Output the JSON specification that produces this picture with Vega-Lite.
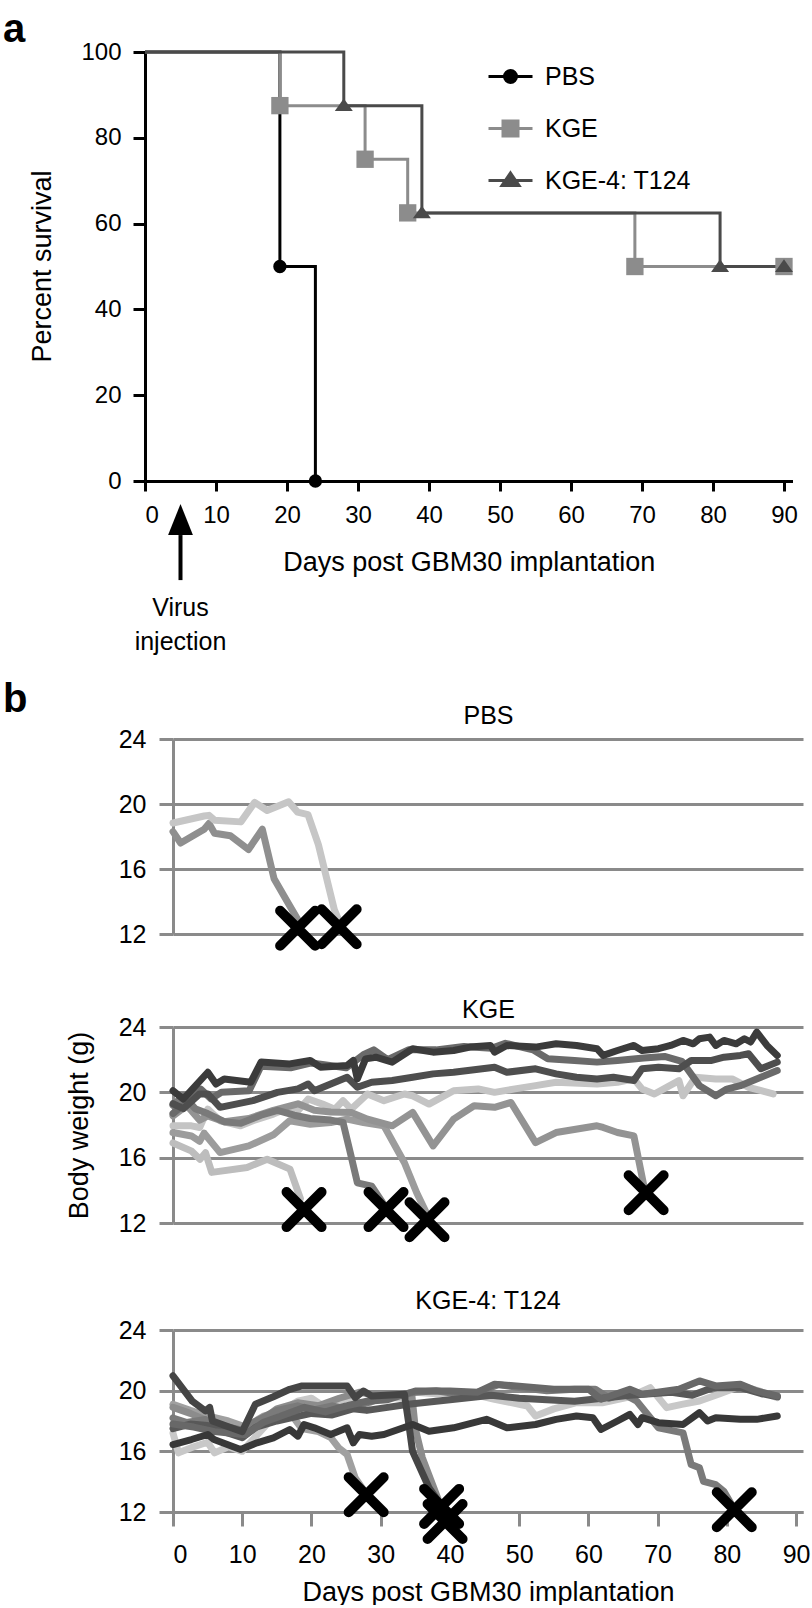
{
"$schema": "https://vega.github.io/schema/vega-lite/v6.json",
"padding": {"left": 2, "top": 10, "right": 2, "bottom": 0},
"config": {
 "font": "Liberation Sans",
 "view": {"stroke": null},
 "axis": {"labelFont": "Liberation Sans", "titleFont": "Liberation Sans", "labelColor": "#000000", "titleColor": "#000000", "titleFontWeight": "normal"},
 "legend": {"labelFont": "Liberation Sans"},
 "text": {"font": "Liberation Sans"}
},
"datasets": {
 "survival": [
  {"group": "PBS", "day": 0, "pct": 100}, {"group": "PBS", "day": 19, "pct": 50}, {"group": "PBS", "day": 24, "pct": 0},
  {"group": "KGE", "day": 0, "pct": 100}, {"group": "KGE", "day": 19, "pct": 87.5}, {"group": "KGE", "day": 31, "pct": 75}, {"group": "KGE", "day": 37, "pct": 62.5}, {"group": "KGE", "day": 69, "pct": 50}, {"group": "KGE", "day": 90, "pct": 50},
  {"group": "KGE-4: T124", "day": 0, "pct": 100}, {"group": "KGE-4: T124", "day": 28, "pct": 87.5}, {"group": "KGE-4: T124", "day": 39, "pct": 62.5}, {"group": "KGE-4: T124", "day": 81, "pct": 50}, {"group": "KGE-4: T124", "day": 90, "pct": 50}
 ],
 "deaths": [
  {"panel": "PBS", "day": 18.0, "wt": 12.35}, {"panel": "PBS", "day": 24.0, "wt": 12.45},
  {"panel": "KGE", "day": 18.93, "wt": 12.82}, {"panel": "KGE", "day": 30.77, "wt": 12.82}, {"panel": "KGE", "day": 36.69, "wt": 12.2}, {"panel": "KGE", "day": 68.34, "wt": 13.85},
  {"panel": "KGE4", "day": 27.9, "wt": 13.14}, {"panel": "KGE4", "day": 38.8, "wt": 12.37}, {"panel": "KGE4", "day": 39.3, "wt": 11.37}, {"panel": "KGE4", "day": 81.07, "wt": 12.15}
 ],
 "weight": [
  {"panel":"PBS","mouse":"P1","day":0,"wt":18.3},{"panel":"PBS","mouse":"P1","day":1.1,"wt":17.6},{"panel":"PBS","mouse":"P1","day":4.5,"wt":18.45},{"panel":"PBS","mouse":"P1","day":5.2,"wt":18.8},{"panel":"PBS","mouse":"P1","day":6.0,"wt":18.2},{"panel":"PBS","mouse":"P1","day":8.3,"wt":18.05},{"panel":"PBS","mouse":"P1","day":10.9,"wt":17.2},{"panel":"PBS","mouse":"P1","day":12.9,"wt":18.45},{"panel":"PBS","mouse":"P1","day":14.6,"wt":15.4},{"panel":"PBS","mouse":"P1","day":16.5,"wt":14.0},{"panel":"PBS","mouse":"P1","day":18.0,"wt":12.9},
  {"panel":"PBS","mouse":"P2","day":0,"wt":18.83},{"panel":"PBS","mouse":"P2","day":4.5,"wt":19.26},{"panel":"PBS","mouse":"P2","day":5.2,"wt":19.3},{"panel":"PBS","mouse":"P2","day":6.0,"wt":19.0},{"panel":"PBS","mouse":"P2","day":9.8,"wt":18.9},{"panel":"PBS","mouse":"P2","day":11.8,"wt":20.1},{"panel":"PBS","mouse":"P2","day":13.6,"wt":19.6},{"panel":"PBS","mouse":"P2","day":16.7,"wt":20.14},{"panel":"PBS","mouse":"P2","day":18.0,"wt":19.5},{"panel":"PBS","mouse":"P2","day":19.5,"wt":19.35},{"panel":"PBS","mouse":"P2","day":21.0,"wt":17.5},{"panel":"PBS","mouse":"P2","day":23.3,"wt":13.5},{"panel":"PBS","mouse":"P2","day":24.0,"wt":12.8},

  {"panel":"KGE","mouse":"K5","day":0,"wt":16.9},{"panel":"KGE","mouse":"K5","day":2.7,"wt":16.4},{"panel":"KGE","mouse":"K5","day":3.9,"wt":15.9},{"panel":"KGE","mouse":"K5","day":4.7,"wt":16.3},{"panel":"KGE","mouse":"K5","day":5.6,"wt":15.1},{"panel":"KGE","mouse":"K5","day":10.7,"wt":15.4},{"panel":"KGE","mouse":"K5","day":13.6,"wt":15.9},{"panel":"KGE","mouse":"K5","day":16.9,"wt":15.3},{"panel":"KGE","mouse":"K5","day":18.4,"wt":13.5},
  {"panel":"KGE","mouse":"K4","day":0,"wt":17.95},{"panel":"KGE","mouse":"K4","day":2.66,"wt":17.95},{"panel":"KGE","mouse":"K4","day":3.85,"wt":17.85},{"panel":"KGE","mouse":"K4","day":5.03,"wt":18.97},{"panel":"KGE","mouse":"K4","day":6.8,"wt":18.26},{"panel":"KGE","mouse":"K4","day":9.76,"wt":17.95},{"panel":"KGE","mouse":"K4","day":11.54,"wt":18.26},{"panel":"KGE","mouse":"K4","day":14.5,"wt":18.67},{"panel":"KGE","mouse":"K4","day":16.86,"wt":19.08},{"panel":"KGE","mouse":"K4","day":18.05,"wt":18.87},{"panel":"KGE","mouse":"K4","day":19.53,"wt":19.59},{"panel":"KGE","mouse":"K4","day":21.6,"wt":19.28},{"panel":"KGE","mouse":"K4","day":23.37,"wt":18.97},{"panel":"KGE","mouse":"K4","day":24.56,"wt":19.49},{"panel":"KGE","mouse":"K4","day":25.74,"wt":18.97},{"panel":"KGE","mouse":"K4","day":28.1,"wt":19.9},{"panel":"KGE","mouse":"K4","day":30.47,"wt":19.49},{"panel":"KGE","mouse":"K4","day":33.43,"wt":19.9},{"panel":"KGE","mouse":"K4","day":34.62,"wt":19.79},{"panel":"KGE","mouse":"K4","day":36.98,"wt":19.28},{"panel":"KGE","mouse":"K4","day":40.53,"wt":20.1},{"panel":"KGE","mouse":"K4","day":44.08,"wt":20.21},{"panel":"KGE","mouse":"K4","day":46.45,"wt":20.0},{"panel":"KGE","mouse":"K4","day":49.41,"wt":20.21},{"panel":"KGE","mouse":"K4","day":52.37,"wt":20.41},{"panel":"KGE","mouse":"K4","day":55.33,"wt":20.62},{"panel":"KGE","mouse":"K4","day":61.24,"wt":20.51},{"panel":"KGE","mouse":"K4","day":64.2,"wt":20.62},{"panel":"KGE","mouse":"K4","day":66.57,"wt":20.82},{"panel":"KGE","mouse":"K4","day":67.75,"wt":20.21},{"panel":"KGE","mouse":"K4","day":69.53,"wt":19.9},{"panel":"KGE","mouse":"K4","day":73.08,"wt":20.72},{"panel":"KGE","mouse":"K4","day":73.67,"wt":19.79},{"panel":"KGE","mouse":"K4","day":75.44,"wt":20.92},{"panel":"KGE","mouse":"K4","day":78.4,"wt":20.82},{"panel":"KGE","mouse":"K4","day":80.77,"wt":20.82},{"panel":"KGE","mouse":"K4","day":83.14,"wt":20.31},{"panel":"KGE","mouse":"K4","day":86.69,"wt":19.9},
  {"panel":"KGE","mouse":"K7","day":0,"wt":17.54},{"panel":"KGE","mouse":"K7","day":2.66,"wt":17.33},{"panel":"KGE","mouse":"K7","day":3.85,"wt":17.0},{"panel":"KGE","mouse":"K7","day":4.5,"wt":17.5},{"panel":"KGE","mouse":"K7","day":6.8,"wt":16.31},{"panel":"KGE","mouse":"K7","day":10.95,"wt":16.72},{"panel":"KGE","mouse":"K7","day":14.5,"wt":17.4},{"panel":"KGE","mouse":"K7","day":16.86,"wt":18.26},{"panel":"KGE","mouse":"K7","day":19.82,"wt":18.05},{"panel":"KGE","mouse":"K7","day":22.78,"wt":18.15},{"panel":"KGE","mouse":"K7","day":25.15,"wt":18.36},{"panel":"KGE","mouse":"K7","day":27.51,"wt":18.15},{"panel":"KGE","mouse":"K7","day":30.47,"wt":17.95},{"panel":"KGE","mouse":"K7","day":33.43,"wt":15.69},{"panel":"KGE","mouse":"K7","day":35.2,"wt":13.85},{"panel":"KGE","mouse":"K7","day":36.5,"wt":12.7},
  {"panel":"KGE","mouse":"K8","day":0,"wt":18.56},{"panel":"KGE","mouse":"K8","day":2.0,"wt":19.2},{"panel":"KGE","mouse":"K8","day":3.85,"wt":18.3},{"panel":"KGE","mouse":"K8","day":5.03,"wt":18.56},{"panel":"KGE","mouse":"K8","day":7.4,"wt":18.2},{"panel":"KGE","mouse":"K8","day":10.95,"wt":18.4},{"panel":"KGE","mouse":"K8","day":14.5,"wt":18.9},{"panel":"KGE","mouse":"K8","day":18.05,"wt":19.3},{"panel":"KGE","mouse":"K8","day":20.41,"wt":18.9},{"panel":"KGE","mouse":"K8","day":22.78,"wt":18.8},{"panel":"KGE","mouse":"K8","day":25.74,"wt":18.77},{"panel":"KGE","mouse":"K8","day":28.1,"wt":18.36},{"panel":"KGE","mouse":"K8","day":31.66,"wt":17.95},{"panel":"KGE","mouse":"K8","day":34.62,"wt":18.77},{"panel":"KGE","mouse":"K8","day":37.57,"wt":16.72},{"panel":"KGE","mouse":"K8","day":40.53,"wt":18.36},{"panel":"KGE","mouse":"K8","day":43.49,"wt":19.18},{"panel":"KGE","mouse":"K8","day":46.45,"wt":19.08},{"panel":"KGE","mouse":"K8","day":48.82,"wt":19.38},{"panel":"KGE","mouse":"K8","day":52.37,"wt":16.92},{"panel":"KGE","mouse":"K8","day":55.33,"wt":17.54},{"panel":"KGE","mouse":"K8","day":61.24,"wt":17.95},{"panel":"KGE","mouse":"K8","day":62.13,"wt":17.85},{"panel":"KGE","mouse":"K8","day":64.2,"wt":17.54},{"panel":"KGE","mouse":"K8","day":66.57,"wt":17.33},{"panel":"KGE","mouse":"K8","day":68.0,"wt":14.3},
  {"panel":"KGE","mouse":"K6","day":0,"wt":19.2},{"panel":"KGE","mouse":"K6","day":1.5,"wt":19.8},{"panel":"KGE","mouse":"K6","day":3.2,"wt":19.0},{"panel":"KGE","mouse":"K6","day":5.0,"wt":18.7},{"panel":"KGE","mouse":"K6","day":7.4,"wt":18.2},{"panel":"KGE","mouse":"K6","day":9.8,"wt":18.1},{"panel":"KGE","mouse":"K6","day":12.7,"wt":18.6},{"panel":"KGE","mouse":"K6","day":15.1,"wt":18.9},{"panel":"KGE","mouse":"K6","day":17.5,"wt":18.6},{"panel":"KGE","mouse":"K6","day":19.8,"wt":18.4},{"panel":"KGE","mouse":"K6","day":22.8,"wt":18.3},{"panel":"KGE","mouse":"K6","day":24.56,"wt":18.15},{"panel":"KGE","mouse":"K6","day":25.5,"wt":16.5},{"panel":"KGE","mouse":"K6","day":26.63,"wt":14.46},{"panel":"KGE","mouse":"K6","day":28.7,"wt":14.26},{"panel":"KGE","mouse":"K6","day":30.5,"wt":13.1},
  {"panel":"KGE","mouse":"K3","day":0,"wt":18.7},{"panel":"KGE","mouse":"K3","day":2,"wt":19.4},{"panel":"KGE","mouse":"K3","day":4,"wt":20.2},{"panel":"KGE","mouse":"K3","day":5.5,"wt":19.6},{"panel":"KGE","mouse":"K3","day":7,"wt":20.0},{"panel":"KGE","mouse":"K3","day":11,"wt":20.1},{"panel":"KGE","mouse":"K3","day":12.7,"wt":21.6},{"panel":"KGE","mouse":"K3","day":17,"wt":21.5},{"panel":"KGE","mouse":"K3","day":20,"wt":21.8},{"panel":"KGE","mouse":"K3","day":25,"wt":21.5},{"panel":"KGE","mouse":"K3","day":27.5,"wt":22.3},{"panel":"KGE","mouse":"K3","day":29,"wt":22.6},{"panel":"KGE","mouse":"K3","day":31,"wt":22.0},{"panel":"KGE","mouse":"K3","day":34,"wt":22.6},{"panel":"KGE","mouse":"K3","day":38,"wt":22.6},{"panel":"KGE","mouse":"K3","day":42,"wt":22.8},{"panel":"KGE","mouse":"K3","day":46,"wt":22.7},{"panel":"KGE","mouse":"K3","day":48,"wt":23.0},{"panel":"KGE","mouse":"K3","day":52,"wt":22.6},{"panel":"KGE","mouse":"K3","day":54.14,"wt":22.05},{"panel":"KGE","mouse":"K3","day":58,"wt":21.95},{"panel":"KGE","mouse":"K3","day":61.24,"wt":21.85},{"panel":"KGE","mouse":"K3","day":64.2,"wt":21.95},{"panel":"KGE","mouse":"K3","day":68,"wt":22.1},{"panel":"KGE","mouse":"K3","day":71,"wt":22.2},{"panel":"KGE","mouse":"K3","day":73.5,"wt":21.9},{"panel":"KGE","mouse":"K3","day":76.04,"wt":20.41},{"panel":"KGE","mouse":"K3","day":78.4,"wt":19.79},{"panel":"KGE","mouse":"K3","day":80,"wt":20.2},{"panel":"KGE","mouse":"K3","day":81.95,"wt":20.41},{"panel":"KGE","mouse":"K3","day":84.91,"wt":20.92},{"panel":"KGE","mouse":"K3","day":87.28,"wt":21.33},
  {"panel":"KGE","mouse":"K2","day":0,"wt":19.3},{"panel":"KGE","mouse":"K2","day":1.5,"wt":19.0},{"panel":"KGE","mouse":"K2","day":3.85,"wt":19.9},{"panel":"KGE","mouse":"K2","day":5.03,"wt":19.9},{"panel":"KGE","mouse":"K2","day":6.8,"wt":19.08},{"panel":"KGE","mouse":"K2","day":11.54,"wt":19.49},{"panel":"KGE","mouse":"K2","day":15.09,"wt":20.0},{"panel":"KGE","mouse":"K2","day":18.05,"wt":20.21},{"panel":"KGE","mouse":"K2","day":19.53,"wt":20.51},{"panel":"KGE","mouse":"K2","day":20.41,"wt":20.1},{"panel":"KGE","mouse":"K2","day":22.78,"wt":20.51},{"panel":"KGE","mouse":"K2","day":25.15,"wt":20.92},{"panel":"KGE","mouse":"K2","day":26.63,"wt":20.31},{"panel":"KGE","mouse":"K2","day":28.7,"wt":20.62},{"panel":"KGE","mouse":"K2","day":31.66,"wt":20.72},{"panel":"KGE","mouse":"K2","day":34.62,"wt":20.92},{"panel":"KGE","mouse":"K2","day":37.57,"wt":21.13},{"panel":"KGE","mouse":"K2","day":40.53,"wt":21.23},{"panel":"KGE","mouse":"K2","day":46.45,"wt":21.54},{"panel":"KGE","mouse":"K2","day":48.22,"wt":21.23},{"panel":"KGE","mouse":"K2","day":52.37,"wt":21.44},{"panel":"KGE","mouse":"K2","day":55.33,"wt":21.13},{"panel":"KGE","mouse":"K2","day":58.28,"wt":20.92},{"panel":"KGE","mouse":"K2","day":61.24,"wt":20.82},{"panel":"KGE","mouse":"K2","day":63.61,"wt":20.92},{"panel":"KGE","mouse":"K2","day":66.57,"wt":20.72},{"panel":"KGE","mouse":"K2","day":67.75,"wt":21.44},{"panel":"KGE","mouse":"K2","day":70.12,"wt":21.54},{"panel":"KGE","mouse":"K2","day":73.08,"wt":21.44},{"panel":"KGE","mouse":"K2","day":74.85,"wt":21.95},{"panel":"KGE","mouse":"K2","day":77.81,"wt":21.95},{"panel":"KGE","mouse":"K2","day":79.59,"wt":22.15},{"panel":"KGE","mouse":"K2","day":81.95,"wt":22.26},{"panel":"KGE","mouse":"K2","day":83.14,"wt":22.36},{"panel":"KGE","mouse":"K2","day":84.91,"wt":21.44},{"panel":"KGE","mouse":"K2","day":87.28,"wt":21.85},
  {"panel":"KGE","mouse":"K1","day":0,"wt":20.1},{"panel":"KGE","mouse":"K1","day":1.48,"wt":19.59},{"panel":"KGE","mouse":"K1","day":5.03,"wt":21.23},{"panel":"KGE","mouse":"K1","day":6.21,"wt":20.51},{"panel":"KGE","mouse":"K1","day":7.4,"wt":20.82},{"panel":"KGE","mouse":"K1","day":11.24,"wt":20.62},{"panel":"KGE","mouse":"K1","day":12.72,"wt":21.85},{"panel":"KGE","mouse":"K1","day":16.86,"wt":21.74},{"panel":"KGE","mouse":"K1","day":19.82,"wt":21.95},{"panel":"KGE","mouse":"K1","day":21.3,"wt":21.54},{"panel":"KGE","mouse":"K1","day":25.15,"wt":21.64},{"panel":"KGE","mouse":"K1","day":26.04,"wt":21.95},{"panel":"KGE","mouse":"K1","day":26.63,"wt":20.82},{"panel":"KGE","mouse":"K1","day":27.81,"wt":22.05},{"panel":"KGE","mouse":"K1","day":29.29,"wt":22.15},{"panel":"KGE","mouse":"K1","day":31.66,"wt":21.85},{"panel":"KGE","mouse":"K1","day":34.62,"wt":22.67},{"panel":"KGE","mouse":"K1","day":37.57,"wt":22.46},{"panel":"KGE","mouse":"K1","day":40.53,"wt":22.56},{"panel":"KGE","mouse":"K1","day":42.9,"wt":22.77},{"panel":"KGE","mouse":"K1","day":45.86,"wt":22.87},{"panel":"KGE","mouse":"K1","day":46.45,"wt":22.46},{"panel":"KGE","mouse":"K1","day":48.22,"wt":22.87},{"panel":"KGE","mouse":"K1","day":52.37,"wt":22.77},{"panel":"KGE","mouse":"K1","day":55.33,"wt":22.97},{"panel":"KGE","mouse":"K1","day":58.28,"wt":22.87},{"panel":"KGE","mouse":"K1","day":61.24,"wt":22.67},{"panel":"KGE","mouse":"K1","day":62.13,"wt":22.26},{"panel":"KGE","mouse":"K1","day":64.2,"wt":22.56},{"panel":"KGE","mouse":"K1","day":66.57,"wt":22.87},{"panel":"KGE","mouse":"K1","day":67.75,"wt":22.56},{"panel":"KGE","mouse":"K1","day":70.12,"wt":22.67},{"panel":"KGE","mouse":"K1","day":71.89,"wt":22.87},{"panel":"KGE","mouse":"K1","day":73.67,"wt":23.18},{"panel":"KGE","mouse":"K1","day":75.15,"wt":22.97},{"panel":"KGE","mouse":"K1","day":76.04,"wt":23.28},{"panel":"KGE","mouse":"K1","day":77.51,"wt":23.38},{"panel":"KGE","mouse":"K1","day":78.4,"wt":22.87},{"panel":"KGE","mouse":"K1","day":79.59,"wt":23.18},{"panel":"KGE","mouse":"K1","day":81.36,"wt":22.97},{"panel":"KGE","mouse":"K1","day":82.54,"wt":23.28},{"panel":"KGE","mouse":"K1","day":83.43,"wt":23.08},{"panel":"KGE","mouse":"K1","day":84.32,"wt":23.69},{"panel":"KGE","mouse":"K1","day":85.8,"wt":22.87},{"panel":"KGE","mouse":"K1","day":87.28,"wt":22.26},

  {"panel":"KGE4","mouse":"T5","day":0,"wt":17.2},{"panel":"KGE4","mouse":"T5","day":0.8,"wt":15.9},{"panel":"KGE4","mouse":"T5","day":3,"wt":16.3},{"panel":"KGE4","mouse":"T5","day":5,"wt":16.6},{"panel":"KGE4","mouse":"T5","day":6,"wt":15.9},{"panel":"KGE4","mouse":"T5","day":8,"wt":16.3},{"panel":"KGE4","mouse":"T5","day":10,"wt":16.0},{"panel":"KGE4","mouse":"T5","day":12,"wt":17.0},{"panel":"KGE4","mouse":"T5","day":15,"wt":18.5},{"panel":"KGE4","mouse":"T5","day":18,"wt":19.3},{"panel":"KGE4","mouse":"T5","day":20,"wt":19.5},{"panel":"KGE4","mouse":"T5","day":22,"wt":18.9},{"panel":"KGE4","mouse":"T5","day":25,"wt":19.5},{"panel":"KGE4","mouse":"T5","day":28,"wt":19.1},{"panel":"KGE4","mouse":"T5","day":30,"wt":19.6},{"panel":"KGE4","mouse":"T5","day":33,"wt":19.5},{"panel":"KGE4","mouse":"T5","day":35,"wt":19.9},{"panel":"KGE4","mouse":"T5","day":38,"wt":19.8},{"panel":"KGE4","mouse":"T5","day":42,"wt":19.9},{"panel":"KGE4","mouse":"T5","day":46.45,"wt":19.43},{"panel":"KGE4","mouse":"T5","day":49,"wt":19.2},{"panel":"KGE4","mouse":"T5","day":51.2,"wt":18.99},{"panel":"KGE4","mouse":"T5","day":52.37,"wt":18.33},{"panel":"KGE4","mouse":"T5","day":55,"wt":18.8},{"panel":"KGE4","mouse":"T5","day":58.28,"wt":19.21},{"panel":"KGE4","mouse":"T5","day":62,"wt":19.2},{"panel":"KGE4","mouse":"T5","day":66,"wt":19.6},{"panel":"KGE4","mouse":"T5","day":68.93,"wt":20.2},{"panel":"KGE4","mouse":"T5","day":71.3,"wt":18.88},{"panel":"KGE4","mouse":"T5","day":73.5,"wt":19.1},{"panel":"KGE4","mouse":"T5","day":76.04,"wt":19.32},{"panel":"KGE4","mouse":"T5","day":79,"wt":19.8},{"panel":"KGE4","mouse":"T5","day":81.95,"wt":20.31},{"panel":"KGE4","mouse":"T5","day":84.5,"wt":20.0},{"panel":"KGE4","mouse":"T5","day":87.3,"wt":19.54},
  {"panel":"KGE4","mouse":"T6","day":0,"wt":19.1},{"panel":"KGE4","mouse":"T6","day":2.5,"wt":18.7},{"panel":"KGE4","mouse":"T6","day":5,"wt":18.33},{"panel":"KGE4","mouse":"T6","day":8,"wt":18.0},{"panel":"KGE4","mouse":"T6","day":10.5,"wt":17.6},{"panel":"KGE4","mouse":"T6","day":13,"wt":18.3},{"panel":"KGE4","mouse":"T6","day":16.5,"wt":18.8},{"panel":"KGE4","mouse":"T6","day":18.6,"wt":17.5},{"panel":"KGE4","mouse":"T6","day":21,"wt":17.3},{"panel":"KGE4","mouse":"T6","day":22.8,"wt":16.9},{"panel":"KGE4","mouse":"T6","day":24.0,"wt":16.2},{"panel":"KGE4","mouse":"T6","day":25.15,"wt":15.79},{"panel":"KGE4","mouse":"T6","day":26.33,"wt":14.24},{"panel":"KGE4","mouse":"T6","day":27.6,"wt":13.4},
  {"panel":"KGE4","mouse":"T8","day":0,"wt":18.9},{"panel":"KGE4","mouse":"T8","day":2.5,"wt":18.5},{"panel":"KGE4","mouse":"T8","day":5,"wt":18.0},{"panel":"KGE4","mouse":"T8","day":8,"wt":17.5},{"panel":"KGE4","mouse":"T8","day":10,"wt":17.0},{"panel":"KGE4","mouse":"T8","day":12,"wt":17.8},{"panel":"KGE4","mouse":"T8","day":15,"wt":18.8},{"panel":"KGE4","mouse":"T8","day":18,"wt":19.2},{"panel":"KGE4","mouse":"T8","day":21,"wt":19.0},{"panel":"KGE4","mouse":"T8","day":24,"wt":19.5},{"panel":"KGE4","mouse":"T8","day":27,"wt":19.9},{"panel":"KGE4","mouse":"T8","day":30,"wt":19.6},{"panel":"KGE4","mouse":"T8","day":33,"wt":19.8},{"panel":"KGE4","mouse":"T8","day":34.5,"wt":19.7},{"panel":"KGE4","mouse":"T8","day":35,"wt":17.5},{"panel":"KGE4","mouse":"T8","day":36,"wt":15.6},{"panel":"KGE4","mouse":"T8","day":37.5,"wt":13.8},{"panel":"KGE4","mouse":"T8","day":39.0,"wt":12.0},
  {"panel":"KGE4","mouse":"T7","day":0,"wt":18.2},{"panel":"KGE4","mouse":"T7","day":2,"wt":17.9},{"panel":"KGE4","mouse":"T7","day":4.7,"wt":18.1},{"panel":"KGE4","mouse":"T7","day":7,"wt":17.7},{"panel":"KGE4","mouse":"T7","day":10,"wt":17.4},{"panel":"KGE4","mouse":"T7","day":12,"wt":18.0},{"panel":"KGE4","mouse":"T7","day":15,"wt":18.7},{"panel":"KGE4","mouse":"T7","day":18,"wt":19.0},{"panel":"KGE4","mouse":"T7","day":20,"wt":18.7},{"panel":"KGE4","mouse":"T7","day":23,"wt":19.0},{"panel":"KGE4","mouse":"T7","day":25,"wt":18.8},{"panel":"KGE4","mouse":"T7","day":28,"wt":19.2},{"panel":"KGE4","mouse":"T7","day":31,"wt":19.6},{"panel":"KGE4","mouse":"T7","day":35,"wt":19.9},{"panel":"KGE4","mouse":"T7","day":38,"wt":20.0},{"panel":"KGE4","mouse":"T7","day":41,"wt":19.8},{"panel":"KGE4","mouse":"T7","day":44,"wt":19.9},{"panel":"KGE4","mouse":"T7","day":47,"wt":20.4},{"panel":"KGE4","mouse":"T7","day":50,"wt":20.2},{"panel":"KGE4","mouse":"T7","day":54,"wt":20.0},{"panel":"KGE4","mouse":"T7","day":58,"wt":20.1},{"panel":"KGE4","mouse":"T7","day":61,"wt":20.1},{"panel":"KGE4","mouse":"T7","day":63,"wt":19.5},{"panel":"KGE4","mouse":"T7","day":65,"wt":19.8},{"panel":"KGE4","mouse":"T7","day":67,"wt":19.3},{"panel":"KGE4","mouse":"T7","day":70.12,"wt":17.55},{"panel":"KGE4","mouse":"T7","day":73.67,"wt":17.22},{"panel":"KGE4","mouse":"T7","day":74.85,"wt":15.13},{"panel":"KGE4","mouse":"T7","day":76.04,"wt":14.91},{"panel":"KGE4","mouse":"T7","day":76.63,"wt":14.02},{"panel":"KGE4","mouse":"T7","day":78.4,"wt":13.8},{"panel":"KGE4","mouse":"T7","day":79.59,"wt":13.36},{"panel":"KGE4","mouse":"T7","day":80.8,"wt":12.4},
  {"panel":"KGE4","mouse":"T4","day":0,"wt":17.5},{"panel":"KGE4","mouse":"T4","day":2.5,"wt":17.8},{"panel":"KGE4","mouse":"T4","day":5,"wt":17.7},{"panel":"KGE4","mouse":"T4","day":8,"wt":17.2},{"panel":"KGE4","mouse":"T4","day":10,"wt":16.9},{"panel":"KGE4","mouse":"T4","day":12,"wt":17.6},{"panel":"KGE4","mouse":"T4","day":15,"wt":18.0},{"panel":"KGE4","mouse":"T4","day":18,"wt":18.3},{"panel":"KGE4","mouse":"T4","day":20,"wt":18.5},{"panel":"KGE4","mouse":"T4","day":23,"wt":18.4},{"panel":"KGE4","mouse":"T4","day":26,"wt":18.8},{"panel":"KGE4","mouse":"T4","day":28,"wt":18.7},{"panel":"KGE4","mouse":"T4","day":31,"wt":18.9},{"panel":"KGE4","mouse":"T4","day":34,"wt":19.1},{"panel":"KGE4","mouse":"T4","day":38,"wt":19.3},{"panel":"KGE4","mouse":"T4","day":42,"wt":19.5},{"panel":"KGE4","mouse":"T4","day":46,"wt":19.7},{"panel":"KGE4","mouse":"T4","day":50,"wt":19.5},{"panel":"KGE4","mouse":"T4","day":54,"wt":19.4},{"panel":"KGE4","mouse":"T4","day":58,"wt":19.3},{"panel":"KGE4","mouse":"T4","day":62,"wt":19.5},{"panel":"KGE4","mouse":"T4","day":66,"wt":19.7},{"panel":"KGE4","mouse":"T4","day":69,"wt":19.8},{"panel":"KGE4","mouse":"T4","day":72,"wt":19.9},{"panel":"KGE4","mouse":"T4","day":75,"wt":19.7},{"panel":"KGE4","mouse":"T4","day":78,"wt":20.2},{"panel":"KGE4","mouse":"T4","day":82,"wt":20.2},{"panel":"KGE4","mouse":"T4","day":85,"wt":19.8},{"panel":"KGE4","mouse":"T4","day":87.3,"wt":19.6},
  {"panel":"KGE4","mouse":"T3","day":0,"wt":17.8},{"panel":"KGE4","mouse":"T3","day":3,"wt":17.6},{"panel":"KGE4","mouse":"T3","day":6,"wt":17.3},{"panel":"KGE4","mouse":"T3","day":10.5,"wt":17.1},{"panel":"KGE4","mouse":"T3","day":13,"wt":17.9},{"panel":"KGE4","mouse":"T3","day":16,"wt":18.4},{"panel":"KGE4","mouse":"T3","day":19,"wt":18.9},{"panel":"KGE4","mouse":"T3","day":22,"wt":18.6},{"panel":"KGE4","mouse":"T3","day":25,"wt":19.0},{"panel":"KGE4","mouse":"T3","day":28,"wt":19.3},{"panel":"KGE4","mouse":"T3","day":31,"wt":19.4},{"panel":"KGE4","mouse":"T3","day":35,"wt":19.98},{"panel":"KGE4","mouse":"T3","day":40,"wt":19.98},{"panel":"KGE4","mouse":"T3","day":44,"wt":19.9},{"panel":"KGE4","mouse":"T3","day":46.45,"wt":20.42},{"panel":"KGE4","mouse":"T3","day":50,"wt":20.3},{"panel":"KGE4","mouse":"T3","day":55,"wt":20.1},{"panel":"KGE4","mouse":"T3","day":60.06,"wt":20.09},{"panel":"KGE4","mouse":"T3","day":61.83,"wt":19.43},{"panel":"KGE4","mouse":"T3","day":65.98,"wt":20.09},{"panel":"KGE4","mouse":"T3","day":67.75,"wt":19.76},{"panel":"KGE4","mouse":"T3","day":70,"wt":19.9},{"panel":"KGE4","mouse":"T3","day":73.08,"wt":20.09},{"panel":"KGE4","mouse":"T3","day":76.04,"wt":20.64},{"panel":"KGE4","mouse":"T3","day":78.4,"wt":20.31},{"panel":"KGE4","mouse":"T3","day":81.95,"wt":20.42},{"panel":"KGE4","mouse":"T3","day":84.32,"wt":19.98},{"panel":"KGE4","mouse":"T3","day":87.28,"wt":19.65},
  {"panel":"KGE4","mouse":"T2","day":0,"wt":20.98},{"panel":"KGE4","mouse":"T2","day":2.8,"wt":19.3},{"panel":"KGE4","mouse":"T2","day":4.7,"wt":18.66},{"panel":"KGE4","mouse":"T2","day":5.3,"wt":18.9},{"panel":"KGE4","mouse":"T2","day":5.7,"wt":18.0},{"panel":"KGE4","mouse":"T2","day":8.1,"wt":17.6},{"panel":"KGE4","mouse":"T2","day":10,"wt":17.3},{"panel":"KGE4","mouse":"T2","day":11.9,"wt":19.1},{"panel":"KGE4","mouse":"T2","day":14.5,"wt":19.6},{"panel":"KGE4","mouse":"T2","day":16.86,"wt":20.09},{"panel":"KGE4","mouse":"T2","day":18.64,"wt":20.31},{"panel":"KGE4","mouse":"T2","day":22,"wt":20.3},{"panel":"KGE4","mouse":"T2","day":25.15,"wt":20.31},{"panel":"KGE4","mouse":"T2","day":26.33,"wt":19.54},{"panel":"KGE4","mouse":"T2","day":27.51,"wt":19.98},{"panel":"KGE4","mouse":"T2","day":28.7,"wt":19.65},{"panel":"KGE4","mouse":"T2","day":33.43,"wt":19.76},{"panel":"KGE4","mouse":"T2","day":34.0,"wt":18.0},{"panel":"KGE4","mouse":"T2","day":34.6,"wt":16.0},{"panel":"KGE4","mouse":"T2","day":36.98,"wt":13.6},{"panel":"KGE4","mouse":"T2","day":38.5,"wt":12.6},
  {"panel":"KGE4","mouse":"T1","day":0,"wt":16.45},{"panel":"KGE4","mouse":"T1","day":2.66,"wt":16.78},{"panel":"KGE4","mouse":"T1","day":5.03,"wt":17.11},{"panel":"KGE4","mouse":"T1","day":5.92,"wt":16.78},{"panel":"KGE4","mouse":"T1","day":9.76,"wt":16.12},{"panel":"KGE4","mouse":"T1","day":12.13,"wt":16.56},{"panel":"KGE4","mouse":"T1","day":14.5,"wt":16.89},{"panel":"KGE4","mouse":"T1","day":16.86,"wt":17.44},{"panel":"KGE4","mouse":"T1","day":18.05,"wt":17.0},{"panel":"KGE4","mouse":"T1","day":18.93,"wt":17.77},{"panel":"KGE4","mouse":"T1","day":20.41,"wt":17.55},{"panel":"KGE4","mouse":"T1","day":22.78,"wt":17.11},{"panel":"KGE4","mouse":"T1","day":25.15,"wt":17.55},{"panel":"KGE4","mouse":"T1","day":26.04,"wt":16.56},{"panel":"KGE4","mouse":"T1","day":26.92,"wt":17.11},{"panel":"KGE4","mouse":"T1","day":28.7,"wt":17.0},{"panel":"KGE4","mouse":"T1","day":30.47,"wt":17.11},{"panel":"KGE4","mouse":"T1","day":34.62,"wt":17.77},{"panel":"KGE4","mouse":"T1","day":36.98,"wt":17.33},{"panel":"KGE4","mouse":"T1","day":40.53,"wt":17.55},{"panel":"KGE4","mouse":"T1","day":45.27,"wt":18.11},{"panel":"KGE4","mouse":"T1","day":48.22,"wt":17.55},{"panel":"KGE4","mouse":"T1","day":52.37,"wt":17.77},{"panel":"KGE4","mouse":"T1","day":55.33,"wt":18.11},{"panel":"KGE4","mouse":"T1","day":58.28,"wt":18.33},{"panel":"KGE4","mouse":"T1","day":60.65,"wt":18.22},{"panel":"KGE4","mouse":"T1","day":61.83,"wt":17.44},{"panel":"KGE4","mouse":"T1","day":64.2,"wt":18.0},{"panel":"KGE4","mouse":"T1","day":65.98,"wt":18.44},{"panel":"KGE4","mouse":"T1","day":67.16,"wt":17.77},{"panel":"KGE4","mouse":"T1","day":67.75,"wt":18.22},{"panel":"KGE4","mouse":"T1","day":70.12,"wt":17.89},{"panel":"KGE4","mouse":"T1","day":73.67,"wt":17.77},{"panel":"KGE4","mouse":"T1","day":76.04,"wt":18.55},{"panel":"KGE4","mouse":"T1","day":77.22,"wt":18.0},{"panel":"KGE4","mouse":"T1","day":78.4,"wt":18.22},{"panel":"KGE4","mouse":"T1","day":81.95,"wt":18.11},{"panel":"KGE4","mouse":"T1","day":84.32,"wt":18.11},{"panel":"KGE4","mouse":"T1","day":87.28,"wt":18.33}
 ]
},
"columns": 1,
"align": "none",
"spacing": 24,
"concat": [
 {
  "width": 620, "height": 429,
  "data": {"name": "survival"},
  "layer": [
   {"transform": [{"filter": "datum.group === 'PBS'"}],
    "mark": {"type": "line", "interpolate": "step-after", "color": "#000000", "strokeWidth": 3},
    "encoding": {
     "x": {"field": "day", "type": "quantitative", "scale": {"domain": [0, 91.2], "range": [-28, 619.5], "nice": false},
      "axis": {"values": [0,5,10,15,20,25,30,35,40,45,50,55,60,65,70,75,80,85,90], "labelExpr": "datum.value % 10 === 0 ? datum.label : ''", "title": "Days post GBM30 implantation", "titleFontSize": 27, "titlePadding": 22, "labelFontSize": 24, "labelPadding": 12, "tickSize": 10, "tickWidth": 3, "tickColor": "#000000", "domainColor": "#000000", "domainWidth": 3, "grid": false}},
     "y": {"field": "pct", "type": "quantitative", "scale": {"domain": [0, 100], "nice": false},
      "axis": {"values": [0,20,40,60,80,100], "offset": 28, "title": "Percent survival", "titleFontSize": 27, "titleX": -103, "titleY": 214, "titleBaseline": "middle", "labelFontSize": 24, "labelPadding": 12, "tickSize": 12, "tickWidth": 3, "tickColor": "#000000", "domainColor": "#000000", "domainWidth": 3, "grid": false}}
    }},
   {"transform": [{"filter": "datum.group === 'KGE'"}],
    "mark": {"type": "line", "interpolate": "step-after", "color": "#8c8c8c", "strokeWidth": 3},
    "encoding": {"x": {"field": "day", "type": "quantitative"}, "y": {"field": "pct", "type": "quantitative"}}},
   {"transform": [{"filter": "datum.group === 'KGE-4: T124'"}],
    "mark": {"type": "line", "interpolate": "step-after", "color": "#4a4a4a", "strokeWidth": 3},
    "encoding": {"x": {"field": "day", "type": "quantitative"}, "y": {"field": "pct", "type": "quantitative"}}},
   {"transform": [{"filter": "datum.group === 'PBS' && datum.day > 0"}],
    "mark": {"type": "point", "shape": "circle", "filled": true, "size": 177, "color": "#000000", "opacity": 1},
    "encoding": {"x": {"field": "day", "type": "quantitative"}, "y": {"field": "pct", "type": "quantitative"}}},
   {"transform": [{"filter": "datum.group === 'KGE' && datum.day > 0"}],
    "mark": {"type": "point", "shape": "square", "filled": true, "size": 300, "color": "#8c8c8c", "opacity": 1},
    "encoding": {"x": {"field": "day", "type": "quantitative"}, "y": {"field": "pct", "type": "quantitative"}}},
   {"transform": [{"filter": "datum.group === 'KGE-4: T124' && datum.day > 0"}],
    "mark": {"type": "point", "shape": "M0,-0.8L1,0.6L-1,0.6Z", "filled": true, "size": 324, "color": "#4a4a4a", "opacity": 1},
    "encoding": {"x": {"field": "day", "type": "quantitative"}, "y": {"field": "pct", "type": "quantitative"}}},
   {"mark": {"type": "point", "filled": true, "clip": true, "size": 400, "strokeWidth": 3, "opacity": 1},
    "encoding": {
     "x": {"datum": -50}, "y": {"datum": 50},
     "shape": {"field": "group", "type": "nominal", "scale": {"domain": ["PBS", "KGE", "KGE-4: T124"], "range": ["M-2.2,0H2.2M0.6,0A0.6,0.6,0,1,1,-0.6,0A0.6,0.6,0,1,1,0.6,0Z", "M-2.2,0H2.2M-0.75,-0.75H0.75V0.75H-0.75Z", "M-2.2,0H2.2M0,-0.75L0.85,0.5L-0.85,0.5Z"]},
      "legend": {"title": null, "orient": "none", "legendX": 325, "legendY": 12, "direction": "vertical", "labelFontSize": 25, "labelColor": "#000000", "symbolSize": 400, "symbolStrokeWidth": 3, "rowPadding": 25, "labelOffset": 22, "padding": 0}},
     "fill": {"field": "group", "type": "nominal", "scale": {"domain": ["PBS", "KGE", "KGE-4: T124"], "range": ["#000000", "#8c8c8c", "#4a4a4a"]},
      "legend": {"title": null, "orient": "none", "legendX": 325, "legendY": 12, "direction": "vertical", "labelFontSize": 25, "labelColor": "#000000", "symbolSize": 400, "symbolStrokeWidth": 3, "rowPadding": 25, "labelOffset": 22, "padding": 0}},
     "stroke": {"field": "group", "type": "nominal", "scale": {"domain": ["PBS", "KGE", "KGE-4: T124"], "range": ["#000000", "#8c8c8c", "#4a4a4a"]},
      "legend": {"title": null, "orient": "none", "legendX": 325, "legendY": 12, "direction": "vertical", "labelFontSize": 25, "labelColor": "#000000", "symbolSize": 400, "symbolStrokeWidth": 3, "rowPadding": 25, "labelOffset": 22, "padding": 0}}
    }},
   {"data": {"values": [{}]},
    "mark": {"type": "rule", "strokeWidth": 4, "color": "#000000"},
    "encoding": {"x": {"datum": 5}, "y": {"datum": -12.6}, "y2": {"datum": -23.1}}},
   {"data": {"values": [{}]},
    "mark": {"type": "point", "shape": "M0,-1L0.8,1L-0.8,1Z", "size": 961, "filled": true, "color": "#000000", "opacity": 1},
    "encoding": {"x": {"datum": 5}, "y": {"datum": -8.97}}},
   {"data": {"values": [{}]},
    "mark": {"type": "text", "fontSize": 25, "align": "center", "baseline": "alphabetic", "lineHeight": 34, "color": "#000000", "text": ["Virus", "injection"]},
    "encoding": {"x": {"datum": 5}, "y": {"datum": -31.5}}},
   {"data": {"values": [{}]},
    "mark": {"type": "text", "fontSize": 40, "fontWeight": "bold", "align": "left", "baseline": "alphabetic", "color": "#000000", "text": "a"},
    "encoding": {"x": {"datum": -20.0}, "y": {"datum": 102.33}}}
  ]
 },
 {
  "spacing": 31,
  "vconcat": [
   {
    "width": 630, "height": 195,
    "layer": [
     {"data": {"name": "weight"}, "transform": [{"filter": "datum.panel === 'PBS'"}],
      "mark": {"type": "line", "strokeWidth": 7, "strokeJoin": "round", "strokeCap": "round"},
      "encoding": {
       "x": {"field": "day", "type": "quantitative", "scale": {"domain": [0, 91], "nice": false},
        "axis": {"orient": "top", "labels": false, "ticks": false, "domain": false, "grid": false, "title": "PBS", "titleFontSize": 25, "titleBaseline": "alphabetic", "titlePadding": 16, "minExtent": 0, "maxExtent": 0}},
       "y": {"field": "wt", "type": "quantitative", "scale": {"domain": [12, 24], "nice": false},
        "axis": {"values": [12,16,20,24], "title": null, "grid": true, "gridColor": "#8a8a8a", "gridWidth": 3, "domainColor": "#8a8a8a", "domainWidth": 3, "tickColor": "#8a8a8a", "tickWidth": 3, "tickSize": 14, "labelFontSize": 25, "labelPadding": 13}},
       "color": {"field": "mouse", "type": "nominal", "legend": null,
        "scale": {"domain": ["P1","P2","K1","K2","K3","K4","K5","K6","K7","K8","T1","T2","T3","T4","T5","T6","T7","T8"], "range": ["#8f8f8f","#c6c6c6","#3b3b3b","#4e4e4e","#6a6a6a","#c4c4c4","#bdbdbd","#7a7a7a","#9c9c9c","#939393","#383838","#454545","#686868","#585858","#c8c8c8","#a0a0a0","#7a7a7a","#8c8c8c"]}}
      }},
     {"data": {"name": "deaths"}, "transform": [{"filter": "datum.panel === 'PBS'"}],
      "mark": {"type": "point", "shape": "M-1,-1L1,1M1,-1L-1,1", "size": 1225, "filled": false, "color": "#000000", "strokeWidth": 10, "strokeCap": "round", "opacity": 1},
      "encoding": {"x": {"field": "day", "type": "quantitative"}, "y": {"field": "wt", "type": "quantitative"}}},
     {"data": {"values": [{}]},
      "mark": {"type": "text", "fontSize": 40, "fontWeight": "bold", "align": "left", "baseline": "alphabetic", "color": "#000000", "text": "b"},
      "encoding": {"x": {"datum": -24.56}, "y": {"datum": 25.66}}}
    ]
   },
   {
    "width": 630, "height": 196,
    "layer": [
     {"data": {"name": "weight"}, "transform": [{"filter": "datum.panel === 'KGE'"}],
      "mark": {"type": "line", "strokeWidth": 7, "strokeJoin": "round", "strokeCap": "round"},
      "encoding": {
       "x": {"field": "day", "type": "quantitative", "scale": {"domain": [0, 91], "nice": false},
        "axis": {"orient": "top", "labels": false, "ticks": false, "domain": false, "grid": false, "title": "KGE", "titleFontSize": 25, "titleBaseline": "alphabetic", "titlePadding": 10, "minExtent": 0, "maxExtent": 0}},
       "y": {"field": "wt", "type": "quantitative", "scale": {"domain": [12, 24], "nice": false},
        "axis": {"values": [12,16,20,24], "title": "Body weight (g)", "titleFontSize": 27, "titleX": -94, "titleY": 98, "titleBaseline": "middle", "grid": true, "gridColor": "#8a8a8a", "gridWidth": 3, "domainColor": "#8a8a8a", "domainWidth": 3, "tickColor": "#8a8a8a", "tickWidth": 3, "tickSize": 14, "labelFontSize": 25, "labelPadding": 13}},
       "color": {"field": "mouse", "type": "nominal", "legend": null,
        "scale": {"domain": ["P1","P2","K1","K2","K3","K4","K5","K6","K7","K8","T1","T2","T3","T4","T5","T6","T7","T8"], "range": ["#8f8f8f","#c6c6c6","#3b3b3b","#4e4e4e","#6a6a6a","#c4c4c4","#bdbdbd","#7a7a7a","#9c9c9c","#939393","#383838","#454545","#686868","#585858","#c8c8c8","#a0a0a0","#7a7a7a","#8c8c8c"]}}
      }},
     {"data": {"name": "deaths"}, "transform": [{"filter": "datum.panel === 'KGE'"}],
      "mark": {"type": "point", "shape": "M-1,-1L1,1M1,-1L-1,1", "size": 1225, "filled": false, "color": "#000000", "strokeWidth": 10, "strokeCap": "round", "opacity": 1},
      "encoding": {"x": {"field": "day", "type": "quantitative"}, "y": {"field": "wt", "type": "quantitative"}}}
    ]
   },
   {
    "width": 630, "height": 182,
    "layer": [
     {"data": {"name": "weight"}, "transform": [{"filter": "datum.panel === 'KGE4'"}],
      "mark": {"type": "line", "strokeWidth": 7, "strokeJoin": "round", "strokeCap": "round"},
      "encoding": {
       "x": {"field": "day", "type": "quantitative", "scale": {"domain": [0, 91], "nice": false},
        "axis": {"values": [0,5,10,15,20,25,30,35,40,45,50,55,60,65,70,75,80,85,90], "labelExpr": "datum.value % 10 === 0 ? datum.label : ''", "title": "Days post GBM30 implantation", "titleFontSize": 27, "titlePadding": 12, "labelFontSize": 25, "labelPadding": 16, "tickSize": 14, "tickWidth": 3, "tickColor": "#8a8a8a", "domainColor": "#8a8a8a", "domainWidth": 3, "grid": false}},
       "y": {"field": "wt", "type": "quantitative", "scale": {"domain": [12, 24], "nice": false},
        "axis": {"values": [12,16,20,24], "title": null, "grid": true, "gridColor": "#8a8a8a", "gridWidth": 3, "domainColor": "#8a8a8a", "domainWidth": 3, "tickColor": "#8a8a8a", "tickWidth": 3, "tickSize": 14, "labelFontSize": 25, "labelPadding": 13}},
       "color": {"field": "mouse", "type": "nominal", "legend": null,
        "scale": {"domain": ["P1","P2","K1","K2","K3","K4","K5","K6","K7","K8","T1","T2","T3","T4","T5","T6","T7","T8"], "range": ["#8f8f8f","#c6c6c6","#3b3b3b","#4e4e4e","#6a6a6a","#c4c4c4","#bdbdbd","#7a7a7a","#9c9c9c","#939393","#383838","#454545","#686868","#585858","#c8c8c8","#a0a0a0","#7a7a7a","#8c8c8c"]}}
      }},
     {"data": {"name": "deaths"}, "transform": [{"filter": "datum.panel === 'KGE4'"}],
      "mark": {"type": "point", "shape": "M-1,-1L1,1M1,-1L-1,1", "size": 1225, "filled": false, "color": "#000000", "strokeWidth": 10, "strokeCap": "round", "opacity": 1},
      "encoding": {"x": {"field": "day", "type": "quantitative"}, "y": {"field": "wt", "type": "quantitative"}}},
     {"data": {"values": [{}]},
      "mark": {"type": "text", "fontSize": 25, "align": "center", "baseline": "alphabetic", "color": "#000000", "text": "KGE-4: T124"},
      "encoding": {"x": {"datum": 45.5}, "y": {"datum": 25.38}}}
    ]
   }
  ]
 }
]
}
